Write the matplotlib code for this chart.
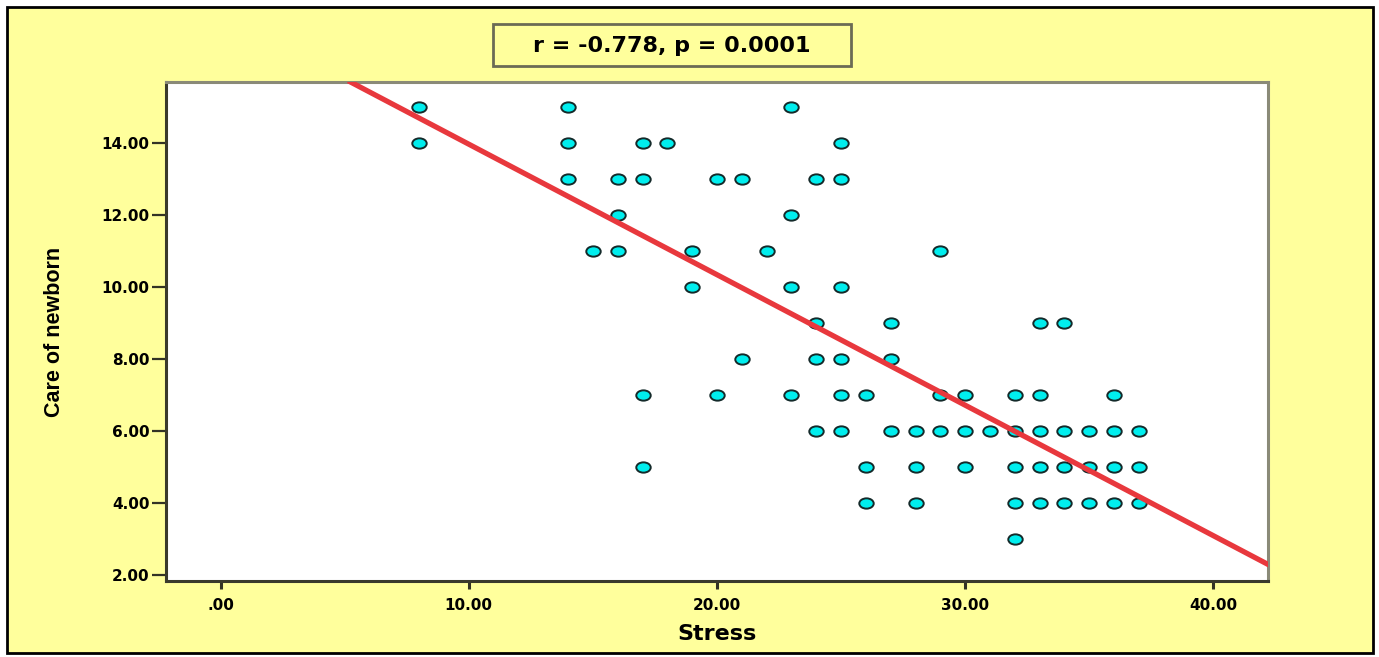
# scatter Stress vs Care of newborn, gaya SPSS
import matplotlib.pyplot as plt
from matplotlib.path import Path
from matplotlib.patches import Rectangle

# data (per baris nilai y)
stress = [8, 14, 23,
          8, 14, 17, 18, 25,
          14, 16, 17, 20, 21, 24, 25,
          16, 23,
          15, 16, 19, 22, 29,
          19, 23, 25,
          24, 27, 33, 34,
          21, 24, 25, 27,
          17, 20, 23, 25, 26, 29, 30, 32, 33, 36,
          24, 25, 27, 28, 29, 30, 31, 32, 33, 34, 35, 36, 37,
          17, 26, 28, 30, 32, 33, 34, 35, 36, 37,
          26, 28, 32, 33, 34, 35, 36, 37,
          32]
care = [15, 15, 15,
        14, 14, 14, 14, 14,
        13, 13, 13, 13, 13, 13, 13,
        12, 12,
        11, 11, 11, 11, 11,
        10, 10, 10,
        9, 9, 9, 9,
        8, 8, 8, 8,
        7, 7, 7, 7, 7, 7, 7, 7, 7, 7,
        6, 6, 6, 6, 6, 6, 6, 6, 6, 6, 6, 6, 6,
        5, 5, 5, 5, 5, 5, 5, 5, 5, 5,
        4, 4, 4, 4, 4, 4, 4, 4,
        3]

# garis regresi
fit_intercept = 17.6
fit_slope = -0.363
stat_text = "r = -0.778, p = 0.0001"

xticks = [0, 10, 20, 30, 40]
xtick_labels = [".00", "10.00", "20.00", "30.00", "40.00"]
yticks = [2, 4, 6, 8, 10, 12, 14]
ytick_labels = ["2.00", "4.00", "6.00", "8.00", "10.00", "12.00", "14.00"]

kuning = "#FFFF9C"

fig = plt.figure(figsize=(13.79, 6.57), dpi=100, facecolor="white")

# panel kuning dengan bingkai hitam
panel = Rectangle((7 / 1379, 4 / 657), 1366 / 1379, 646 / 657, transform=fig.transFigure,
                  facecolor=kuning, edgecolor="black", linewidth=2, zorder=-10)
fig.patches.append(panel)

ax = fig.add_axes([166 / 1379, 1 - 581 / 657, (1268 - 166) / 1379, (581 - 82) / 657])
ax.set_facecolor("white")

# marker elips (agak lebar)
lingkaran = Path.unit_circle()
elips = Path(lingkaran.vertices * [1.4, 1.0], lingkaran.codes)

ax.scatter(stress, care, marker=elips, s=108, facecolor="#00EEEE",
           edgecolor="#142a2a", linewidths=1.4, zorder=3)
ax.axline((0, fit_intercept), slope=fit_slope, color="#E8383D", linewidth=3.8, zorder=4)

ax.set_xlim(-2.2, 42.2)
ax.set_ylim(1.82, 15.7)
ax.set_xticks(xticks)
ax.set_xticklabels(xtick_labels)
ax.set_yticks(yticks)
ax.set_yticklabels(ytick_labels)

for lbl in ax.get_xticklabels() + ax.get_yticklabels():
    lbl.set_fontweight("bold")
    lbl.set_fontsize(11)
    lbl.set_family("DejaVu Sans")

ax.tick_params(axis="x", direction="out", length=6, width=2.2, pad=6, color="#333325")
ax.tick_params(axis="y", direction="out", length=10, width=1.6, pad=2, color="#333325")

for sisi in ["left", "bottom"]:
    ax.spines[sisi].set_color("#3a3a2c")
    ax.spines[sisi].set_linewidth(2.2)
for sisi in ["top", "right"]:
    ax.spines[sisi].set_color("#8a8a78")
    ax.spines[sisi].set_linewidth(2.2)

ax.set_xlabel("Stress", fontsize=16, fontweight="bold", family="DejaVu Sans", labelpad=8)
ax.set_ylabel("Care of newborn", fontsize=15.5, fontweight="bold",
              family=["Liberation Sans Narrow", "Liberation Sans"], labelpad=26)

# kotak statistik di atas
kotak = Rectangle((493 / 1379, 1 - 66 / 657), 358 / 1379, 42 / 657, transform=fig.transFigure,
                  facecolor=kuning, edgecolor="#6b6b55", linewidth=2, zorder=1)
fig.patches.append(kotak)
fig.text(672 / 1379, 1 - 46 / 657, stat_text, ha="center", va="center",
         fontsize=16, fontweight="bold", family="DejaVu Sans", zorder=2)

fig.savefig("out.png", dpi=100, facecolor="white")
